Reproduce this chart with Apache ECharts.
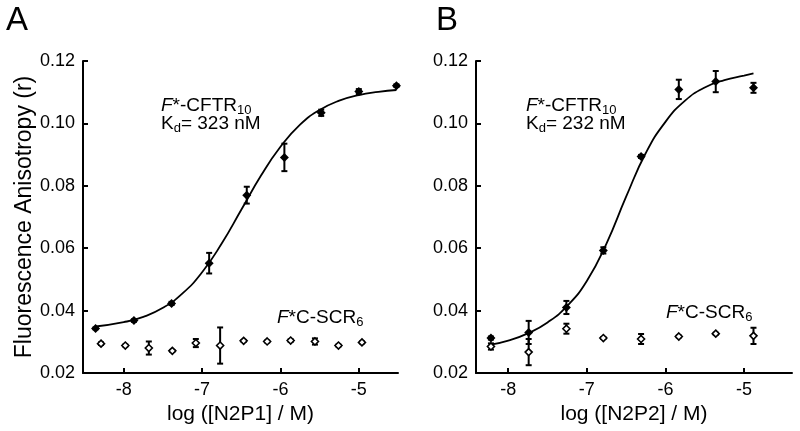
<!DOCTYPE html>
<html>
<head>
<meta charset="utf-8">
<script src="https://cdn.jsdelivr.net/npm/echarts@6/dist/echarts.min.js"></script>
<style>
  html, body { margin: 0; padding: 0; background: #fff; }
  #chart { width: 800px; height: 431px; }
</style>
</head>
<body>
<div id="chart"></div>
<script>
// panel A: F*-CFTR10 + N2P1
var aBoundX = [-8.36, -7.87, -7.39, -6.91, -6.43, -5.95, -5.48, -5.00, -4.52];
var aBoundY = [0.0343, 0.0368, 0.0423, 0.0552, 0.0770, 0.0891, 0.1034, 0.1102, 0.1121];
var aBoundErr = [0.0003, 0.0004, 0.0005, 0.0033, 0.0027, 0.0044, 0.0010, 0.0008, 0.0004];
var aScrX = [-8.29, -7.98, -7.68, -7.38, -7.08, -6.77, -6.47, -6.17, -5.87, -5.56, -5.26, -4.96];
var aScrY = [0.0294, 0.0288, 0.0280, 0.0271, 0.0296, 0.0288, 0.0303, 0.0301, 0.0304, 0.0301, 0.0288, 0.0298];
var aScrErr = [0.0004, 0.0003, 0.0021, 0.0003, 0.0013, 0.0058, 0.0003, 0.0003, 0.0004, 0.0010, 0.0003, 0.0003];
var aFitX = [-8.36, -8.0, -7.75, -7.5, -7.25, -7.0, -6.75, -6.5, -6.25, -6.0, -5.75, -5.5, -5.25, -5.0, -4.75, -4.52];
var aFitY = [0.0349, 0.0363, 0.0380, 0.0409, 0.0455, 0.0523, 0.0615, 0.0723, 0.0832, 0.0925, 0.0996, 0.1043, 0.1073, 0.1091, 0.1101, 0.1107];

// panel B: F*-CFTR10 + N2P2
var bBoundX = [-8.22, -7.74, -7.26, -6.79, -6.31, -5.83, -5.36, -4.88];
var bBoundY = [0.0312, 0.0330, 0.0410, 0.0593, 0.0894, 0.1109, 0.1134, 0.1114];
var bBoundErr = [0.0005, 0.0037, 0.0021, 0.0010, 0.0005, 0.0031, 0.0034, 0.0016];
var bScrX = [-8.22, -7.74, -7.26, -6.79, -6.31, -5.83, -5.36, -4.88];
var bScrY = [0.0285, 0.0267, 0.0342, 0.0312, 0.0309, 0.0317, 0.0326, 0.0319];
var bScrErr = [0.0010, 0.0042, 0.0016, 0.0003, 0.0016, 0.0003, 0.0003, 0.0026];
var bFitX = [-8.22, -8.0, -7.75, -7.5, -7.25, -7.0, -6.75, -6.5, -6.25, -6.0, -5.75, -5.5, -5.25, -5.0, -4.88];
var bFitY = [0.0291, 0.0304, 0.0327, 0.0362, 0.0415, 0.0495, 0.0615, 0.0765, 0.0905, 0.1005, 0.1073, 0.1115, 0.1139, 0.1153, 0.1160];

var xTicks = [-8, -7, -6, -5];
var font = 'Liberation Sans, Arial, sans-serif';

function zip(xs, ys, es) {
  return xs.map(function (x, i) { return es ? [x, ys[i], es[i]] : [x, ys[i]]; });
}

// error bar with small caps
function errBar(params, api) {
  var x = api.value(0), y = api.value(1), e = api.value(2);
  var hi = api.coord([x, y + e]);
  var lo = api.coord([x, y - e]);
  var w = 3;
  var st = { stroke: '#000', lineWidth: 2 };
  return {
    type: 'group',
    children: [
      { type: 'line', shape: { x1: hi[0], y1: hi[1], x2: lo[0], y2: lo[1] }, style: st },
      { type: 'line', shape: { x1: hi[0] - w, y1: hi[1], x2: hi[0] + w, y2: hi[1] }, style: st },
      { type: 'line', shape: { x1: lo[0] - w, y1: lo[1], x2: lo[0] + w, y2: lo[1] }, style: st }
    ]
  };
}

function xAxisFor(idx, name, min, max) {
  return {
    type: 'value', gridIndex: idx, min: min, max: max,
    name: name, nameLocation: 'middle', nameGap: 28,
    nameTextStyle: { fontSize: 21, color: '#000', fontFamily: font },
    splitLine: { show: false },
    axisLine: { lineStyle: { color: '#000', width: 2 } },
    axisTick: { inside: true, length: 5, customValues: xTicks, lineStyle: { color: '#000', width: 2 } },
    axisLabel: { customValues: xTicks, margin: 8, fontSize: 18, color: '#000', fontFamily: font }
  };
}

function yAxisFor(idx, name) {
  return {
    type: 'value', gridIndex: idx, min: 0.02, max: 0.12, interval: 0.02,
    name: name, nameLocation: 'middle', nameGap: 42,
    nameTextStyle: { fontSize: 23, color: '#000', fontFamily: font },
    splitLine: { show: false },
    axisLine: { show: true, lineStyle: { color: '#000', width: 2 } },
    axisTick: { show: true, inside: true, length: 5, lineStyle: { color: '#000', width: 2 } },
    axisLabel: { margin: 8, fontSize: 18, color: '#000', fontFamily: font,
      formatter: function (v) { return v.toFixed(2); } }
  };
}

function panelSeries(idx, fitX, fitY, bx, by, be, sx, sy, se) {
  return [
    { type: 'line', xAxisIndex: idx, yAxisIndex: idx, data: zip(fitX, fitY), smooth: true,
      showSymbol: false, lineStyle: { color: '#000', width: 1.8 }, z: 2, silent: true },
    { type: 'custom', xAxisIndex: idx, yAxisIndex: idx, data: zip(bx, by, be),
      renderItem: errBar, encode: { x: 0, y: 1 }, z: 3 },
    { type: 'custom', xAxisIndex: idx, yAxisIndex: idx, data: zip(sx, sy, se),
      renderItem: errBar, encode: { x: 0, y: 1 }, z: 3 },
    { type: 'scatter', xAxisIndex: idx, yAxisIndex: idx, data: zip(bx, by),
      symbol: 'diamond', symbolSize: [9, 9], itemStyle: { color: '#000', opacity: 1 }, z: 4 },
    { type: 'scatter', xAxisIndex: idx, yAxisIndex: idx, data: zip(sx, sy),
      symbol: 'diamond', symbolSize: [7, 7],
      itemStyle: { color: '#fff', borderColor: '#000', borderWidth: 1.6, opacity: 1 }, z: 5 }
  ];
}

var rich = {
  n: { fontSize: 19, lineHeight: 22, fontFamily: font, color: '#000' },
  i: { fontSize: 19, lineHeight: 22, fontFamily: font, fontStyle: 'italic', color: '#000' },
  s: { fontSize: 13, lineHeight: 12, fontFamily: font, color: '#000', verticalAlign: 'bottom' }
};

function label(x, y, txt, size) {
  return {
    type: 'text', left: x, top: y,
    style: { text: txt, rich: rich, fill: '#000', font: size + 'px ' + font }
  };
}

var chart = echarts.init(document.getElementById('chart'), null, { renderer: 'canvas' });
chart.setOption({
  animation: false,
  backgroundColor: '#fff',
  grid: [
    { left: 83, top: 61, width: 315, height: 312 },
    { left: 476, top: 61, width: 316, height: 312 }
  ],
  xAxis: [
    xAxisFor(0, 'log ([N2P1] / M)', -8.52, -4.5),
    xAxisFor(1, 'log ([N2P2] / M)', -8.41, -4.39)
  ],
  yAxis: [
    yAxisFor(0, 'Fluorescence Anisotropy (r)'),
    yAxisFor(1, '')
  ],
  graphic: [
    { type: 'text', left: 6, top: 4, style: { text: 'A', font: '33px ' + font, fill: '#000' } },
    { type: 'text', left: 436, top: 4, style: { text: 'B', font: '33px ' + font, fill: '#000' } },
    label(161, 96, '{i|F}{n|*-CFTR}{s|10}', 19),
    label(161, 114, '{n|K}{s|d}{n|= 323 nM}', 19),
    label(277, 308, '{i|F}{n|*C-SCR}{s|6}', 19),
    label(526, 96, '{i|F}{n|*-CFTR}{s|10}', 19),
    label(526, 114, '{n|K}{s|d}{n|= 232 nM}', 19),
    label(666, 303, '{i|F}{n|*C-SCR}{s|6}', 19)
  ],
  series: [].concat(
    panelSeries(0, aFitX, aFitY, aBoundX, aBoundY, aBoundErr, aScrX, aScrY, aScrErr),
    panelSeries(1, bFitX, bFitY, bBoundX, bBoundY, bBoundErr, bScrX, bScrY, bScrErr)
  )
});
</script>
</body>
</html>
